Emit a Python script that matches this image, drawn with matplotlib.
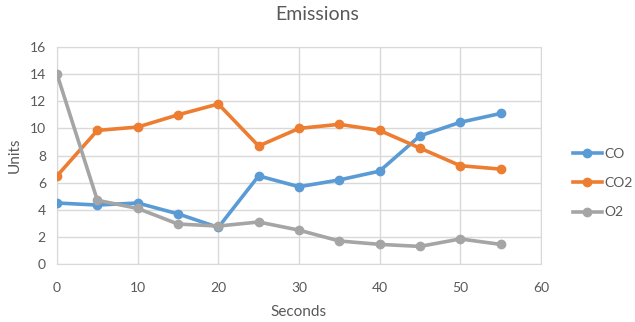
import matplotlib
matplotlib.use("Agg")
import matplotlib.pyplot as plt

seconds = [0, 5, 10, 15, 20, 25, 30, 35, 40, 45, 50, 55]
co = [4.5, 4.35, 4.5, 3.7, 2.7, 6.5, 5.7, 6.2, 6.85, 9.45, 10.45, 11.1]
co2 = [6.5, 9.85, 10.1, 11.0, 11.8, 8.7, 10.0, 10.3, 9.85, 8.55, 7.25, 7.0]
o2 = [14.0, 4.7, 4.1, 2.95, 2.8, 3.1, 2.5, 1.7, 1.45, 1.3, 1.85, 1.45]
series_names = ["CO", "CO2", "O2"]
colors = ["#5B9BD5", "#ED7D31", "#A5A5A5"]

plt.rcParams['font.family'] = ['Lato', 'DejaVu Sans']
txt = "#595959"

fig = plt.figure(figsize=(6.35, 3.22), dpi=100)
ax = fig.add_axes([0.0898, 0.180, 0.762, 0.674])

for vals, name, c in zip([co, co2, o2], series_names, colors):
    ax.plot(seconds, vals, color=c, lw=2.6, marker='o', ms=6, label=name, zorder=3)

ax.set_xlim(0, 60)
ax.set_ylim(0, 16)
ax.set_xticks(range(0, 61, 10))
ax.set_yticks(range(0, 17, 2))
ax.grid(True, color="#D9D9D9", lw=1)
for s in ax.spines.values():
    s.set_color("#D9D9D9")
ax.tick_params(axis='x', length=0, colors=txt, labelsize=10, pad=13)
ax.tick_params(axis='y', length=0, colors=txt, labelsize=10, pad=8)
ax.set_xlabel("Seconds", color=txt, fontsize=11, labelpad=8)
ax.set_ylabel("Units", color=txt, fontsize=11, labelpad=6)
fig.text(0.5, 0.955, "Emissions", ha='center', va='center', fontsize=14, color=txt)

leg = ax.legend(loc='center left', bbox_to_anchor=(1.066, 0.373), frameon=False,
                fontsize=10, labelcolor=txt, handlelength=2.1, handletextpad=0.15,
                labelspacing=1.25, borderpad=0, borderaxespad=0)

fig.savefig("out.png", dpi=100)
